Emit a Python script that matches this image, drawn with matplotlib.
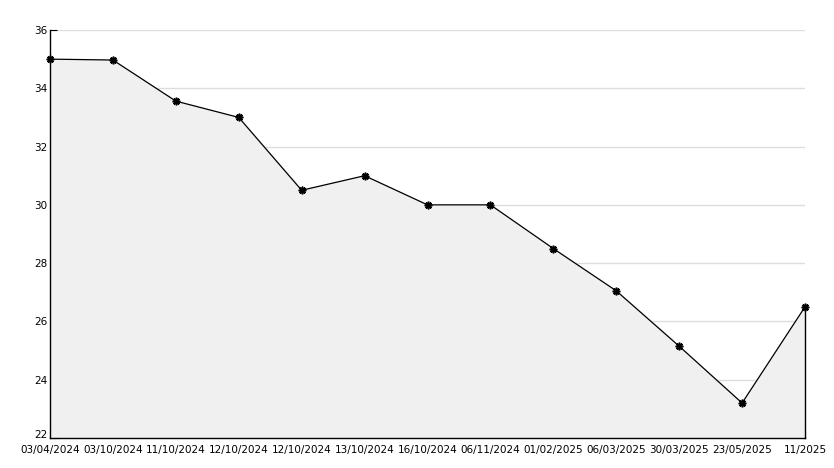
import matplotlib.pyplot as plt
from matplotlib.transforms import ScaledTranslation

dates = ["03/04/2024", "03/10/2024", "11/10/2024", "12/10/2024", "12/10/2024",
         "13/10/2024", "16/10/2024", "06/11/2024", "01/02/2025", "06/03/2025",
         "30/03/2025", "23/05/2025", "11/2025"]
values = [35.0, 34.97, 33.56, 33.0, 30.5, 31.0, 30.0, 30.0, 28.5, 27.05, 25.15, 23.2, 26.5]
yticks = [22, 24, 26, 28, 30, 32, 34, 36]

fig = plt.figure(figsize=(8.34, 4.68), dpi=100)
ax = fig.add_axes([50 / 834, 30 / 468, 755 / 834, 408 / 468])

xs = list(range(len(values)))
ax.fill_between(xs, values, 22, color="#f0f0f0", zorder=1)
ax.plot([xs[-1], xs[-1]], [22, values[-1]], color="black", lw=1, zorder=2,
        clip_on=False)
ax.plot(xs, values, color="black", lw=0.9, marker=(8, 2, 0), markersize=5.5,
        markeredgewidth=1.2, zorder=3, clip_on=False)

ax.set_xlim(0, len(values) - 1)
ax.set_ylim(22, 36)
ax.set_yticks(yticks)
ax.set_yticks([23, 25, 27, 29, 31, 33, 35], minor=True)
ax.set_xticks(xs)
ax.set_xticklabels(dates)
ax.grid(axis="y", color="#dddddd", lw=1, zorder=0)
ax.set_axisbelow(True)

for s in ["top", "right"]:
    ax.spines[s].set_visible(False)
ax.spines["left"].set_linewidth(1)
ax.spines["bottom"].set_linewidth(1)
ax.tick_params(axis="both", which="major", direction="in", length=5,
               labelsize=7.5, pad=2)
ax.tick_params(axis="y", which="minor", direction="in", length=3)
ax.tick_params(axis="x", pad=5)

# lift the bottom y label a little so it clears the first date
lbl = ax.get_yticklabels()[0]
lbl.set_transform(lbl.get_transform() + ScaledTranslation(0, 3 / 72, fig.dpi_scale_trans))

fig.savefig("out.png", dpi=100)
